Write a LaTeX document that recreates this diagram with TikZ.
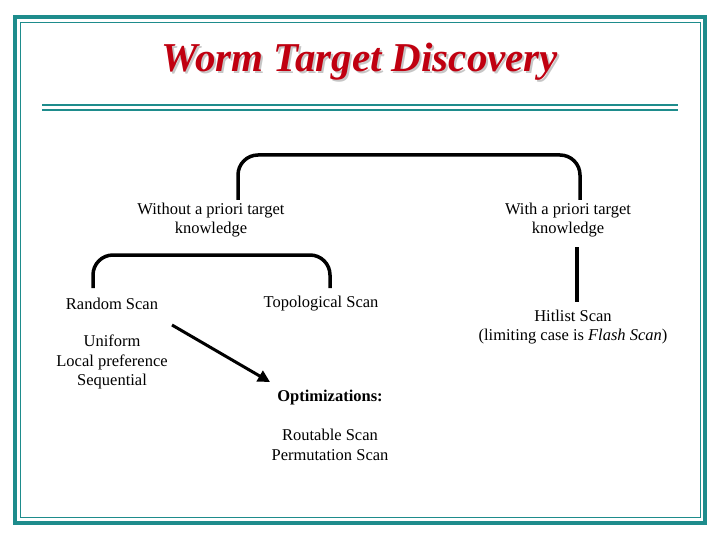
\documentclass[tikz,border=0pt]{standalone}
\usepackage{fontspec}
\setmainfont{Liberation Serif}
\usetikzlibrary{arrows.meta}
\definecolor{teal1}{HTML}{1E8C8C}
\definecolor{tred}{HTML}{C00010}
\tikzset{lbl/.style={font=\fontsize{16.5}{19.5}\selectfont,align=center,inner sep=0pt},
 brk/.style={line width=3.5pt,rounded corners=20pt}}
\begin{document}
\begin{tikzpicture}[x=1pt,y=-1pt]
\useasboundingbox (0,0) rectangle (720,540);
\fill[white] (0,0) rectangle (720,540);
\draw[teal1,line width=4pt] (15,17) rectangle (705,523);
\draw[teal1,line width=1pt] (20,23) rectangle (700,517);
\node[font=\fontsize{41}{44}\selectfont\bfseries\itshape,text=gray!45] at (362,64) {Worm Target Discovery};
\node (title)[font=\fontsize{41}{44}\selectfont\bfseries\itshape,text=tred] at (360,62) {Worm Target Discovery};
\draw[teal1,line width=2pt] (42,105) -- (678,105);
\draw[teal1,line width=2pt] (42,110) -- (678,110);
\node (without)[lbl] at (211,220) {Without a priori target\\knowledge};
\node (with)[lbl] at (568,220) {With a priori target\\knowledge};
\node (random)[lbl] at (112,304) {Random Scan};
\node (topo)[lbl] at (321,304) {Topological Scan};
\node (hit)[lbl] at (573,327) {Hitlist Scan\\(limiting case is \textit{Flash Scan})};
\node (unif)[lbl] at (112,362) {Uniform\\Local preference\\Sequential};
\node (opt)[lbl] at (330,398) {\textbf{Optimizations:}};
\node (rout)[lbl] at (330,445) {Routable Scan\\Permutation Scan};
\coordinate (a1) at (238,200); \coordinate (a2) at (238,155);
\coordinate (a3) at (580,155); \coordinate (a4) at (580,200);
\draw[brk] (a1) -- (a2) -- (a3) -- (a4);
\coordinate (b1) at (93,288); \coordinate (b2) at (93,255);
\coordinate (b3) at (330,255); \coordinate (b4) at (330,288);
\draw[brk] (b1) -- (b2) -- (b3) -- (b4);
\coordinate (c1) at (577,247); \coordinate (c2) at (577,302);
\draw[line width=3.5pt] (c1) -- (c2);
\coordinate (d1) at (172,325); \coordinate (d2) at (270,382);
\draw[line width=3pt,-{Triangle[length=12pt,width=12pt]}] (d1) -- (d2);
\end{tikzpicture}
\end{document}
